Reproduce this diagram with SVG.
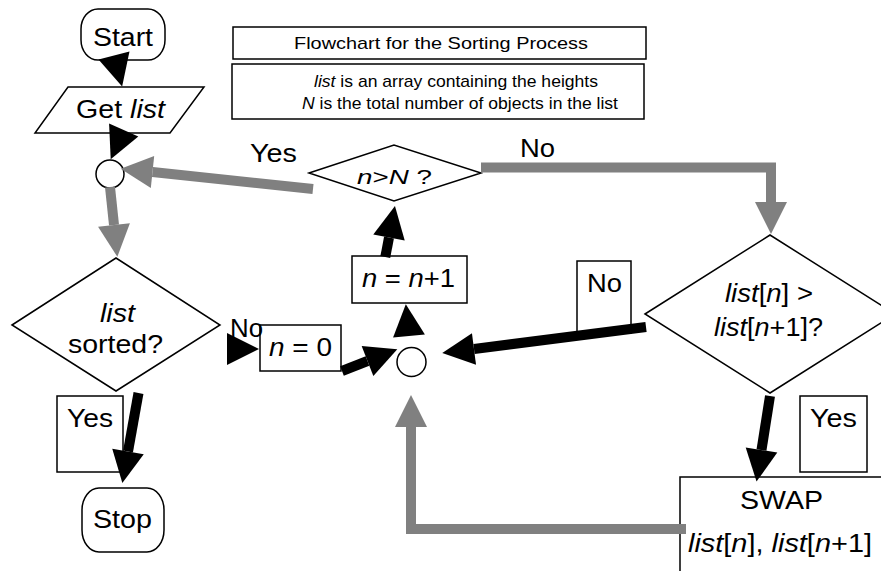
<svg xmlns="http://www.w3.org/2000/svg" width="881" height="571" viewBox="0 0 881 571">
<style>
.shape{fill:#fff;stroke:#000;stroke-width:1.5}
.lbl{fill:#fff;stroke:#000;stroke-width:1.5}
text{font-family:"Liberation Sans",Arial,sans-serif;fill:#000}
.big{font-size:26px}
.mid{font-size:25px}
.small{font-size:17px}
.it{font-style:italic}
.blk{fill:none;stroke:#000;stroke-width:10;marker-end:url(#ab)}
.gry{fill:none;stroke:#808080;stroke-width:10;marker-end:url(#ag)}
.head{fill:none;stroke:none;marker-end:url(#ab)}
</style>
<defs>
<marker id="ab" markerUnits="userSpaceOnUse" markerWidth="34" markerHeight="34" viewBox="0 -17 34 34" refX="0" refY="0" orient="auto" overflow="visible">
<path d="M0,-16 L32,0 L0,16 z" fill="#000"/>
</marker>
<marker id="ag" markerUnits="userSpaceOnUse" markerWidth="34" markerHeight="34" viewBox="0 -17 34 34" refX="0" refY="0" orient="auto" overflow="visible">
<path d="M0,-16 L32,0 L0,16 z" fill="#808080"/>
</marker>
</defs>
<rect width="881" height="571" fill="#fff"/>

<g id="title">
<rect class="shape" x="233" y="27" width="413" height="32"/>
<text class="small" x="294" y="49" textLength="294" lengthAdjust="spacingAndGlyphs">Flowchart for the Sorting Process</text>
</g>
<g id="legend">
<rect class="shape" x="232" y="64" width="412" height="55"/>
<text class="small" x="314" y="87" textLength="284" lengthAdjust="spacingAndGlyphs"><tspan class="it">list</tspan> is an array containing the heights</text>
<text class="small" x="302" y="109" textLength="316" lengthAdjust="spacingAndGlyphs"><tspan class="it">N</tspan> is the total number of objects in the list</text>
</g>

<g id="start">
<rect class="shape" x="81" y="9" width="84" height="51" rx="17" ry="20"/>
<text class="big" x="93" y="46" textLength="60" lengthAdjust="spacingAndGlyphs">Start</text>
</g>
<g id="getlist">
<polygon class="shape" points="68,87 204,87 170,133 35,133"/>
<text class="big" x="76" y="118" textLength="89" lengthAdjust="spacingAndGlyphs">Get <tspan class="it">list</tspan></text>
</g>
<g id="join1">
<circle class="shape" cx="110" cy="174" r="14"/>
</g>
<g id="sorted">
<polygon class="shape" points="12,325 116,258 220,325 116,391"/>
<text class="big it" x="100" y="322" textLength="35" lengthAdjust="spacingAndGlyphs">list</text>
<text class="big" x="68" y="353" textLength="95" lengthAdjust="spacingAndGlyphs">sorted?</text>
</g>
<g id="yes1">
<rect class="lbl" x="57" y="396" width="66" height="76"/>
<text class="mid" x="67" y="427" textLength="46" lengthAdjust="spacingAndGlyphs">Yes</text>
</g>
<g id="stop">
<rect class="shape" x="82" y="488" width="82" height="64" rx="17" ry="22"/>
<text class="big" x="93" y="528" textLength="59" lengthAdjust="spacingAndGlyphs">Stop</text>
</g>
<g id="nzero">
<rect class="shape" x="260" y="325" width="81" height="46"/>
<text class="big" x="269" y="356" textLength="63" lengthAdjust="spacingAndGlyphs"><tspan class="it">n</tspan> = 0</text>
</g>
<g id="no1">
<text class="mid" x="230" y="337" textLength="33" lengthAdjust="spacingAndGlyphs">No</text>
</g>
<g id="join2">
<circle class="shape" cx="411.5" cy="362" r="14.5"/>
</g>
<g id="ninc">
<rect class="shape" x="352" y="256" width="115" height="47"/>
<text class="big" x="362" y="287" textLength="93" lengthAdjust="spacingAndGlyphs"><tspan class="it">n</tspan> = <tspan class="it">n</tspan>+1</text>
</g>
<g id="ngtN">
<polygon class="shape" points="309,173 394,145 481,173 394,201"/>
<text style="font-size:21px" x="357" y="184" textLength="75" lengthAdjust="spacingAndGlyphs"><tspan class="it">n</tspan>&gt;<tspan class="it">N</tspan> ?</text>
</g>
<g id="yes2">
<text class="mid" x="250" y="162" textLength="47" lengthAdjust="spacingAndGlyphs">Yes</text>
</g>
<g id="no2">
<text class="mid" x="520" y="157" textLength="35" lengthAdjust="spacingAndGlyphs">No</text>
</g>
<g id="compare">
<polygon class="shape" points="645,314 770,235 895,314 770,393"/>
<text class="big" x="725" y="302" textLength="88" lengthAdjust="spacingAndGlyphs"><tspan class="it">list</tspan>[<tspan class="it">n</tspan>] &gt;</text>
<text class="big" x="714" y="336" textLength="109" lengthAdjust="spacingAndGlyphs"><tspan class="it">list</tspan>[<tspan class="it">n</tspan>+1]?</text>
</g>
<g id="no3">
<rect class="lbl" x="577" y="261" width="54" height="72"/>
<text class="mid" x="587" y="292" textLength="35" lengthAdjust="spacingAndGlyphs">No</text>
</g>
<g id="yes3">
<rect class="lbl" x="800" y="396" width="67" height="76"/>
<text class="mid" x="810" y="427" textLength="47" lengthAdjust="spacingAndGlyphs">Yes</text>
</g>
<g id="swap">
<rect class="shape" x="680" y="477" width="215" height="110"/>
<text class="big" x="740" y="509" textLength="83" lengthAdjust="spacingAndGlyphs">SWAP</text>
<text class="big" x="688" y="552" textLength="184" lengthAdjust="spacingAndGlyphs"><tspan class="it">list</tspan>[<tspan class="it">n</tspan>], <tspan class="it">list</tspan>[<tspan class="it">n</tspan>+1]</text>
</g>

<g id="connectors">
<path class="head" d="M113.5,53.6 L114,55.5"/>
<path class="head" d="M124.1,129.1 L123.7,130"/>
<path class="gry" d="M313,189 L152.5,172"/>
<path class="gry" d="M110,187 L114,225"/>
<path class="gry" d="M481,167.5 H771 V202"/>
<path class="head" d="M226,349 L227,349"/>
<path class="blk" d="M342,371 L367.5,361"/>
<path class="head" d="M409.1,337 L409,336"/>
<path class="blk" d="M385.3,257 L389,237.5"/>
<path class="blk" d="M646,327 L474,349"/>
<path class="blk" d="M770,396 L761.5,450"/>
<path class="gry" d="M686,529 H411 V427"/>
<path class="blk" d="M138.5,393 L128,451.5"/>
</g>
</svg>
